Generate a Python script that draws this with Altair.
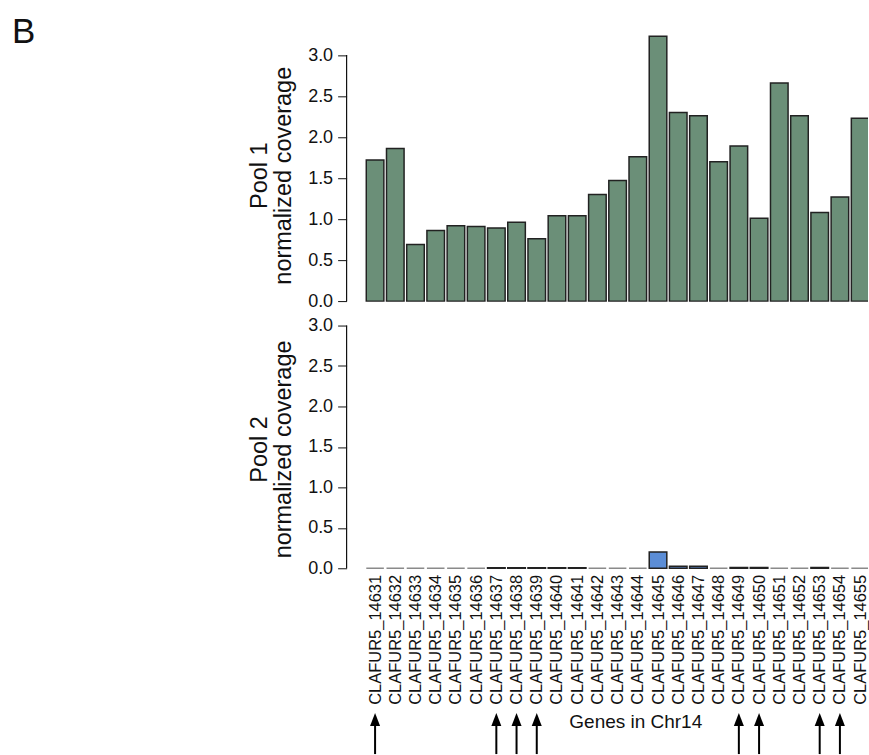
import json

import altair as alt
import pandas as pd

# Genes along Chr14 and their normalized coverage in the two pools
genes = [
    "CLAFUR5_14631", "CLAFUR5_14632", "CLAFUR5_14633", "CLAFUR5_14634", "CLAFUR5_14635",
    "CLAFUR5_14636", "CLAFUR5_14637", "CLAFUR5_14638", "CLAFUR5_14639", "CLAFUR5_14640",
    "CLAFUR5_14641", "CLAFUR5_14642", "CLAFUR5_14643", "CLAFUR5_14644", "CLAFUR5_14645",
    "CLAFUR5_14646", "CLAFUR5_14647", "CLAFUR5_14648", "CLAFUR5_14649", "CLAFUR5_14650",
    "CLAFUR5_14651", "CLAFUR5_14652", "CLAFUR5_14653", "CLAFUR5_14654", "CLAFUR5_14655",
]
pool1 = [1.72, 1.86, 0.69, 0.86, 0.92, 0.91, 0.89, 0.96, 0.76, 1.04,
         1.04, 1.30, 1.47, 1.76, 3.23, 2.30, 2.26, 1.70, 1.89, 1.01,
         2.66, 2.26, 1.08, 1.27, 2.23]
pool2 = [0.0, 0.0, 0.0, 0.0, 0.0, 0.0, 0.008, 0.008, 0.008, 0.008,
         0.008, 0.0, 0.0, 0.0, 0.20, 0.025, 0.025, 0.0, 0.01, 0.01,
         0.0, 0.0, 0.01, 0.0, 0.0]
# Genes flagged with an arrow under the axis
marked = ["CLAFUR5_14631", "CLAFUR5_14637", "CLAFUR5_14638", "CLAFUR5_14639",
          "CLAFUR5_14649", "CLAFUR5_14650", "CLAFUR5_14653", "CLAFUR5_14654"]
y_ticks = [0.0, 0.5, 1.0, 1.5, 2.0, 2.5, 3.0]

df = pd.DataFrame({
    "gene": genes,
    "idx": list(range(1, len(genes) + 1)),
    "pool1": pool1,
    "pool2": pool2,
})
arrows = pd.DataFrame({"gene": marked, "idx": [genes.index(g) + 1 for g in marked]})
one_row = pd.DataFrame({"k": [0]})

FONT = "Liberation Sans"
INK = "#111111"
W = 522
HALF_BAR = 0.435
x_scale = alt.Scale(domain=[-0.409, 25.39], nice=False, zero=False)

y_axis_style = dict(
    values=y_ticks, format=".1f", domain=False, grid=False,
    ticks=True, tickSize=9, tickColor=INK, tickWidth=1,
    labelPadding=5, labelFontSize=18, labelFont=FONT, labelColor=INK,
    titleFont=FONT, titleFontSize=23.5, titleFontWeight="normal", titleColor=INK,
    titleLineHeight=24, titlePadding=12,
)

x_axis = alt.Axis(
    values=list(range(1, len(genes) + 1)), labelExpr=json.dumps(genes) + "[datum.value - 1]",
    labelAngle=270, labelFontSize=16.5, labelFont=FONT, labelColor=INK, labelPadding=2,
    labelFlush=False, labelOverlap=False, ticks=False, domain=False, grid=False,
    title="Genes in Chr14", titleFont=FONT, titleFontSize=19, titleFontWeight="normal",
    titleColor=INK, titleX=289, titlePadding=8,
)

bars_base = alt.Chart(df).transform_calculate(
    lo=f"datum.idx - {HALF_BAR}", hi=f"datum.idx + {HALF_BAR}"
)

# ---- Pool 1 panel ----
y1_scale = alt.Scale(domain=[-0.03, 3.3], nice=False, zero=False)
top_bars = bars_base.mark_bar(
    fill="#6b8f78", stroke="#222222", strokeWidth=1.5, clip=True
).encode(
    x=alt.X("lo:Q", scale=x_scale, axis=None),
    x2="hi:Q",
    y=alt.Y("pool1:Q", scale=y1_scale,
            axis=alt.Axis(title=["Pool 1", "normalized coverage"], titleY=145,
                          **y_axis_style)),
    y2=alt.datum(0),
)
top_line = alt.Chart(one_row).mark_rule(color=INK, strokeWidth=1.2).encode(
    x=alt.value(0), y=alt.datum(0, scale=y1_scale), y2=alt.datum(3)
)
panel_letter = alt.Chart(one_row).mark_text(
    text="B", font=FONT, fontSize=35, align="left", baseline="top", color=INK
).encode(x=alt.value(-335), y=alt.value(-15))

top = alt.layer(top_bars, top_line, panel_letter).properties(width=W, height=273.5)

# ---- Pool 2 panel ----
y2_scale = alt.Scale(domain=[-0.05, 3.0], nice=False, zero=False)
bottom_bars = bars_base.mark_bar(
    fill="#5b8dd6", strokeWidth=1.5, clip=True
).encode(
    x=alt.X("lo:Q", scale=x_scale, axis=x_axis),
    x2="hi:Q",
    y=alt.Y("pool2:Q", scale=y2_scale,
            axis=alt.Axis(title=["Pool 2", "normalized coverage"], **y_axis_style)),
    y2=alt.datum(0),
    # empty genes are drawn as a faint baseline stub
    stroke=alt.condition("datum.pool2 == 0", alt.value("#8a8a8a"), alt.value("#222222")),
)
bottom_line = alt.Chart(one_row).mark_rule(color=INK, strokeWidth=1.2).encode(
    x=alt.value(0), y=alt.datum(0, scale=y2_scale), y2=alt.datum(3)
)
arrow_shaft = alt.Chart(arrows).mark_rule(color="#000000", strokeWidth=2).encode(
    x=alt.X("idx:Q", scale=x_scale, axis=x_axis),
    y=alt.value(398), y2=alt.value(429),
)
arrow_head = alt.Chart(arrows).mark_point(
    shape="M0,-1L0.77,1L-0.77,1Z", filled=True, size=169, color="#000000", opacity=1
).encode(
    x=alt.X("idx:Q", scale=x_scale, axis=x_axis),
    y=alt.value(394.5),
)

bottom = alt.layer(bottom_bars, bottom_line, arrow_shaft, arrow_head).properties(
    width=W, height=247.05
)

chart = alt.vconcat(top, bottom, spacing=21.5, bounds="flush").properties(
    padding={"left": 12, "top": 15, "right": 0, "bottom": 0},
    background="white",
).configure_view(stroke=None)

chart.save("out.html", embed_options={"renderer": "svg", "actions": False})
